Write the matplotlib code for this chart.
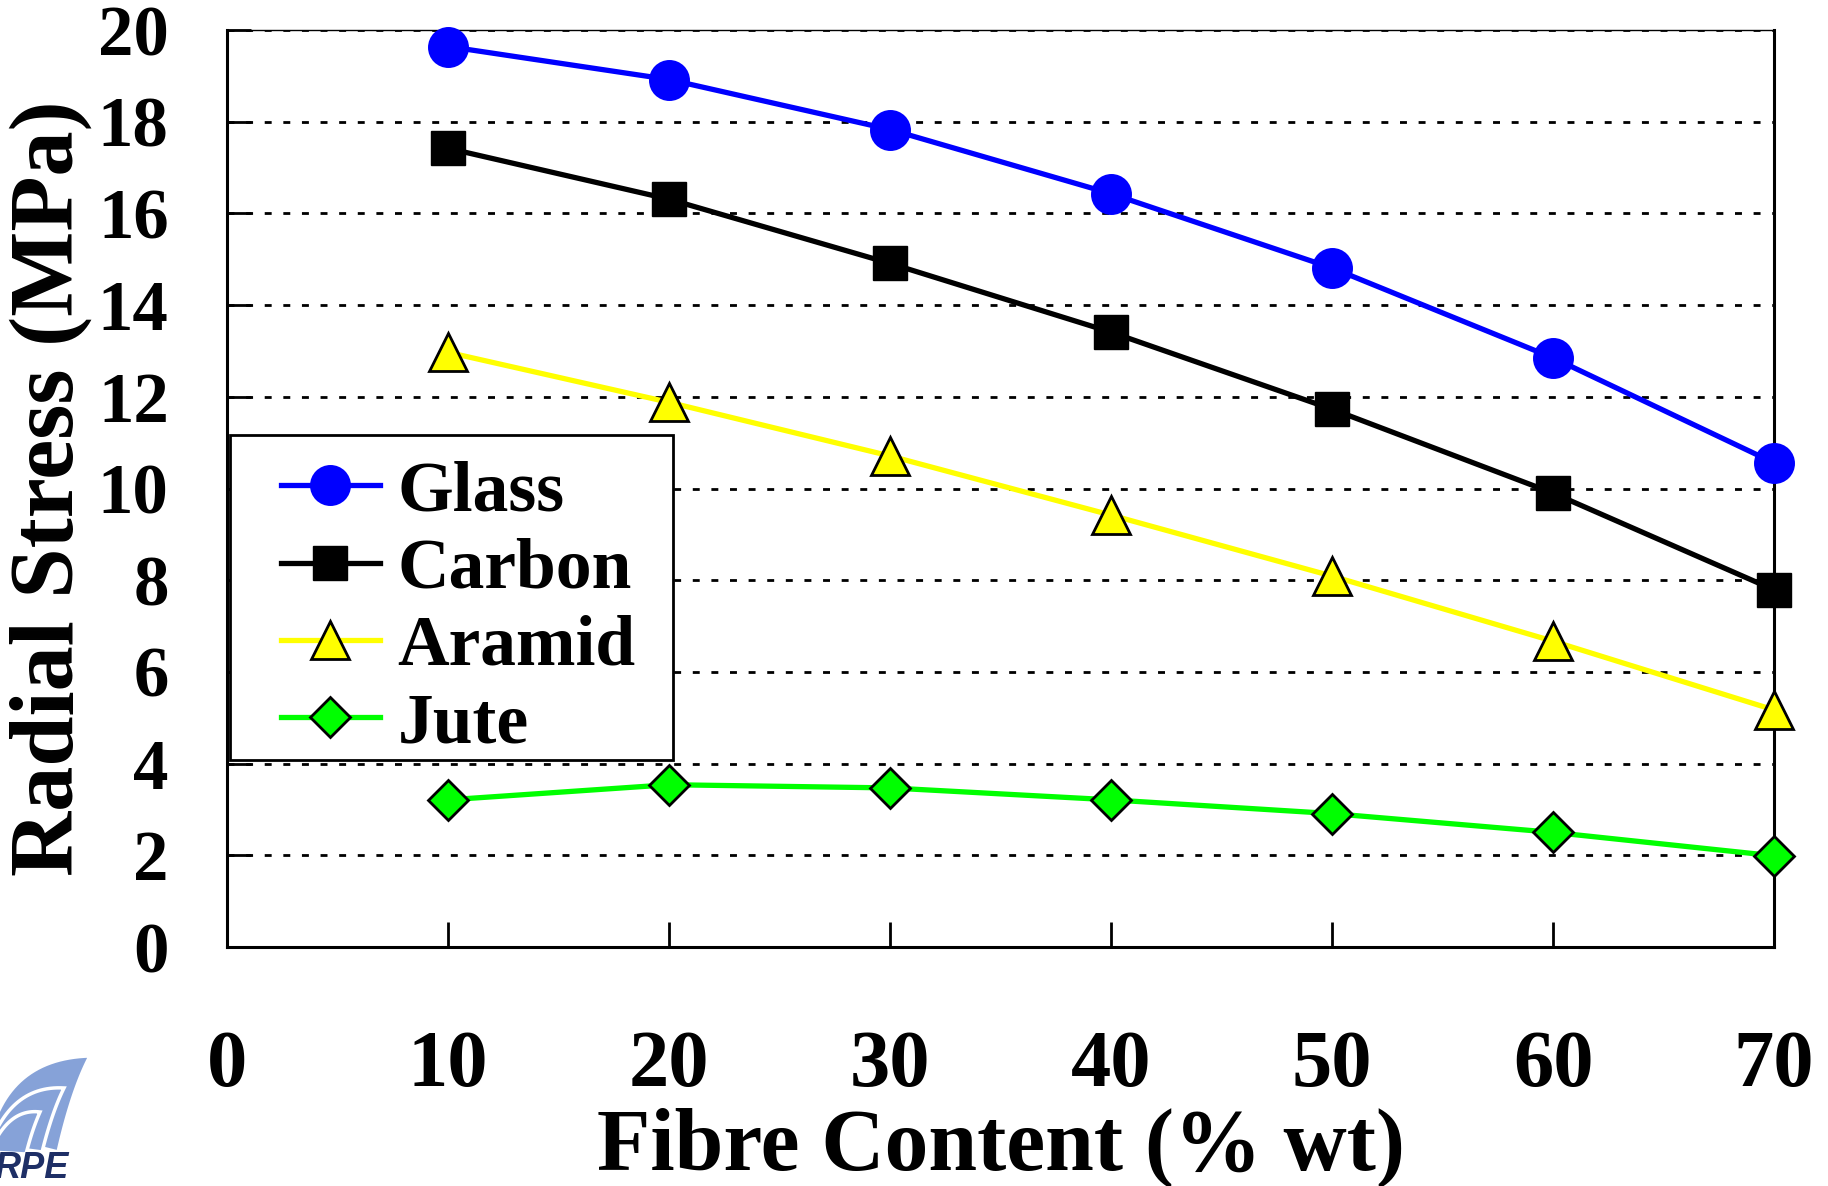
import matplotlib
matplotlib.use("Agg")
import numpy as np
import matplotlib.pyplot as plt
from matplotlib.legend_handler import HandlerLine2D
from matplotlib.lines import Line2D
from matplotlib.patches import Polygon, Rectangle

# radial stress vs fibre content, one series per fibre type
fibre = [10, 20, 30, 40, 50, 60, 70]
glass = [19.64, 18.92, 17.83, 16.43, 14.81, 12.85, 10.56]
carbon = [17.42, 16.31, 14.91, 13.41, 11.73, 9.90, 7.79]
aramid = [12.97, 11.88, 10.71, 9.42, 8.09, 6.67, 5.17]
jute = [3.21, 3.54, 3.47, 3.21, 2.91, 2.50, 1.99]

x_ticks = [0, 10, 20, 30, 40, 50, 60, 70]
y_ticks = [0, 2, 4, 6, 8, 10, 12, 14, 16, 18, 20]

plt.rcParams["font.family"] = ["Liberation Serif", "DejaVu Serif"]
plt.rcParams["font.weight"] = "bold"
plt.rcParams["axes.labelweight"] = "bold"

W, H, DPI = 18.28, 11.86, 100
fig = plt.figure(figsize=(W, H), dpi=DPI)
ax = fig.add_axes([0.1242, 0.2015, 0.8463, 0.7732])

styles = [
    ("Glass", glass, "o", "#0000ff", "#0000ff", 29.5, 0.0),
    ("Carbon", carbon, "s", "black", "black", 24.0, 1.0),
    ("Aramid", aramid, "^", "#ffff00", "black", 28.0, 2.0),
    ("Jute", jute, "D", "#00ff00", "black", 20.5, 2.0),
]
for name, vals, mk, col, edge, ms, mew in styles:
    ax.plot(fibre, vals, color=col, lw=3.8, marker=mk, ms=ms, mfc=col,
            mec=edge, mew=mew, label=name, clip_on=False, zorder=4)

ax.set_xlim(0, 70)
ax.set_ylim(0, 20)
ax.set_xticks(x_ticks)
ax.set_yticks(y_ticks)

ax.grid(axis="y", color="black", lw=2, linestyle=(0, (2.5, 4.2)))
ax.set_axisbelow(False)

for side in ["left", "right", "bottom"]:
    ax.spines[side].set_linewidth(2.2)
ax.spines["top"].set_linewidth(1.0)

ax.tick_params(axis="x", direction="in", length=18, width=2, labelsize=58,
               pad=60, top=False)
ax.tick_params(axis="y", direction="in", length=17, width=2, labelsize=51,
               pad=42, right=False)

ax.set_xlabel("Fibre Content (% wt)", fontsize=63, labelpad=3)
ax.set_ylabel("Radial Stress (MPa)", fontsize=65, labelpad=4)

leg_fs = 51.5
leg = ax.legend(loc="upper left", bbox_to_anchor=(0.002, 0.558),
                borderaxespad=0, fontsize=leg_fs, handlelength=1.74,
                handletextpad=0.25, labelspacing=0.17, borderpad=0.35,
                frameon=False,
                handler_map={Line2D: HandlerLine2D(xpad=0.36)})
leg.set_zorder(6)

# legend frame: tighter at the bottom and a little wider than the text box
fig.canvas.draw()
bb = leg.get_window_extent()
em = leg_fs * DPI / 72
trim, extra = 0.31 * em, 0.17 * em
ax.add_patch(Rectangle((bb.x0 / (W * DPI), (bb.y0 + trim) / (H * DPI)),
                       (bb.width + extra) / (W * DPI),
                       (bb.height - trim) / (H * DPI),
                       transform=fig.transFigure, fc="white", ec="black",
                       lw=2.0, clip_on=False, zorder=5))


# small corner logo, drawn in pixel units of the lower-left corner
def bezier(p0, p1, p2, n=30):
    t = np.linspace(0, 1, n)[:, None]
    return (1 - t) ** 2 * np.array(p0) + 2 * (1 - t) * t * np.array(p1) + t ** 2 * np.array(p2)


logo = fig.add_axes([0.0, 0.0, 0.075, 0.14])
logo.set_xlim(0, 137)
logo.set_ylim(1186, 1020)
logo.axis("off")
fins = [
    ((-10, 1135), (10, 1058), (90, 1056), (72, 1090), (58, 1152)),
    ((-10, 1145), (12, 1085), (64, 1088), (52, 1112), (42, 1152)),
    ((-10, 1152), (8, 1108), (40, 1112), (32, 1130), (26, 1154)),
]
for a, c, tip, d, b in fins:
    outer = bezier(a, c, tip)
    inner = bezier(tip, d, b)
    logo.add_patch(Polygon(np.vstack([outer, inner]), closed=True,
                           fc="#86a2d8", ec="white", lw=2.5))
logo.text(-6, 1178, "RPE", fontsize=26, fontstyle="italic",
          fontweight="bold", color="#1e2f66", family="Liberation Sans")

fig.savefig("out.png", dpi=DPI)
